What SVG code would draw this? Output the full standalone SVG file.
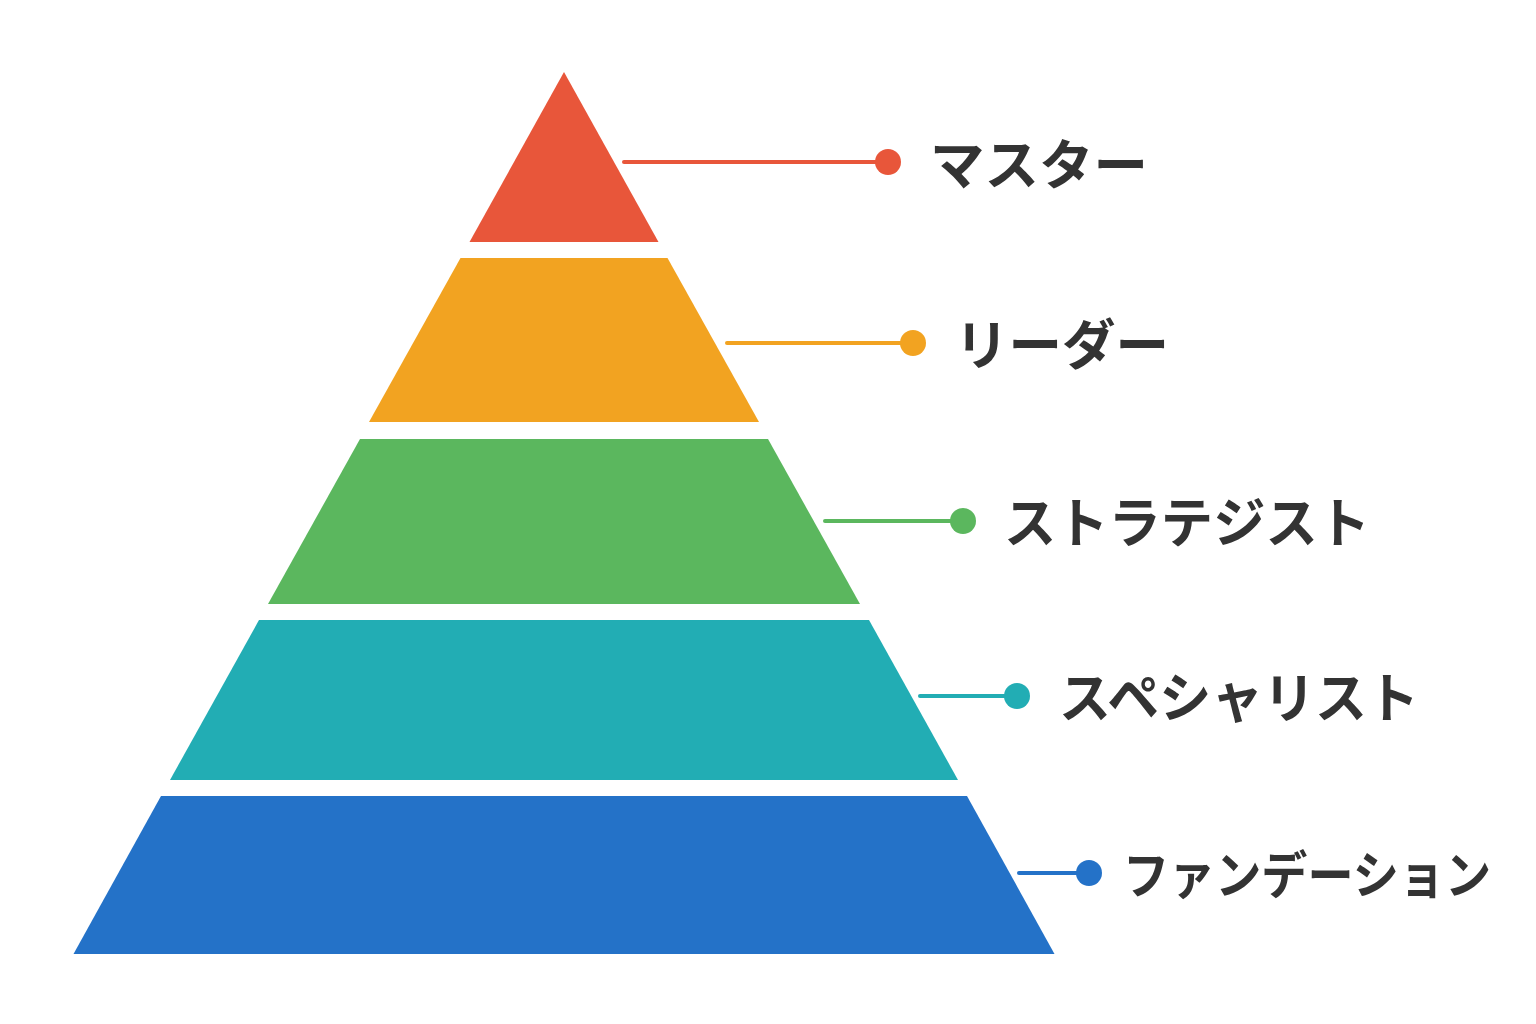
<svg xmlns="http://www.w3.org/2000/svg" width="1536" height="1024" viewBox="0 0 1536 1024">
<style>
.lbl{font-family:"Noto Sans CJK JP","Noto Sans",sans-serif;font-weight:700;font-size:54px;fill:#333333}
.ln{stroke-width:4;stroke-linecap:round;fill:none}
</style>
<rect width="1536" height="1024" fill="#ffffff"/>
<g id="layer-master"><polygon points="564,72 658.5,242 469.5,242" fill="#E8563A"/></g>
<g id="layer-leader"><polygon points="460.5,258 667.5,258 759,422 369,422" fill="#F2A321"/></g>
<g id="layer-strategist"><polygon points="360,439 768,439 860,604 268,604" fill="#5BB75E"/></g>
<g id="layer-specialist"><polygon points="259,620 869,620 958,780 170,780" fill="#22ADB4"/></g>
<g id="layer-foundation"><polygon points="161,796 967,796 1054.5,954 73.5,954" fill="#2472C8"/></g>
<g id="connectors">
<line class="ln" x1="624" y1="162" x2="888" y2="162" stroke="#E8563A"/>
<circle cx="888" cy="162" r="13" fill="#E8563A"/>
<line class="ln" x1="727" y1="343" x2="913" y2="343" stroke="#F2A321"/>
<circle cx="913" cy="343" r="13" fill="#F2A321"/>
<line class="ln" x1="825" y1="521" x2="963" y2="521" stroke="#5BB75E"/>
<circle cx="963" cy="521" r="13" fill="#5BB75E"/>
<line class="ln" x1="920" y1="696" x2="1017" y2="696" stroke="#22ADB4"/>
<circle cx="1017" cy="696" r="13" fill="#22ADB4"/>
<line class="ln" x1="1019" y1="873" x2="1089" y2="873" stroke="#2472C8"/>
<circle cx="1089" cy="873" r="13" fill="#2472C8"/>
</g>
<g id="labels">
<text class="lbl" x="930" y="185" textLength="218" lengthAdjust="spacingAndGlyphs">マスター</text>
<text class="lbl" x="955" y="365" textLength="214" lengthAdjust="spacingAndGlyphs">リーダー</text>
<text class="lbl" x="1004" y="543" textLength="366" lengthAdjust="spacingAndGlyphs">ストラテジスト</text>
<text class="lbl" x="1059" y="718" textLength="360" lengthAdjust="spacingAndGlyphs">スペシャリスト</text>
<text class="lbl" x="1123" y="894" style="font-size:51px" textLength="368" lengthAdjust="spacingAndGlyphs">ファンデーション</text>
</g>
</svg>
